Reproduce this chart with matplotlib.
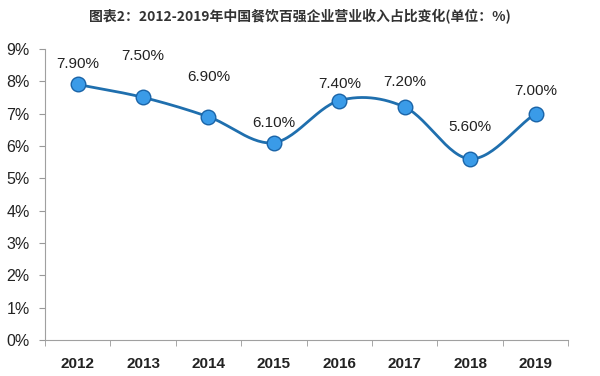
import numpy as np
import matplotlib
matplotlib.use('Agg')
import matplotlib.pyplot as plt

plt.rcParams['font.family'] = ['Liberation Sans', 'Noto Sans CJK SC', 'DejaVu Sans']

years = ['2012', '2013', '2014', '2015', '2016', '2017', '2018', '2019']
share = [7.90, 7.50, 6.90, 6.10, 7.40, 7.20, 5.60, 7.00]
label_offsets = [15, 30, 29, 14, 12, 18, 23, 16]


def smooth(x, y, n=30):
    # Catmull-Rom curve through the points, for the smoothed line look
    x = np.asarray(x, float)
    y = np.asarray(y, float)
    px = np.concatenate([[2 * x[0] - x[1]], x, [2 * x[-1] - x[-2]]])
    py = np.concatenate([[2 * y[0] - y[1]], y, [2 * y[-1] - y[-2]]])
    xs, ys = [], []
    t = np.linspace(0, 1, n)
    for i in range(1, len(px) - 2):
        for p, out in ((px, xs), (py, ys)):
            p0, p1, p2, p3 = p[i - 1], p[i], p[i + 1], p[i + 2]
            out.extend(0.5 * ((2 * p1) + (-p0 + p2) * t
                              + (2 * p0 - 5 * p1 + 4 * p2 - p3) * t ** 2
                              + (-p0 + 3 * p1 - 3 * p2 + p3) * t ** 3))
    return np.array(xs), np.array(ys)


fig = plt.figure(figsize=(6, 3.76), dpi=100)
ax = fig.add_axes([0.075, 0.096, 0.872, 0.774])

x = np.arange(len(years))
sx, sy = smooth(x, share)
ax.plot(sx, sy, color='#1f6fae', lw=2, zorder=2)
ax.scatter(x, share, s=110, color='#3a9be8', edgecolor='#1a64a8', linewidth=1, zorder=3)

for xi, v, off in zip(x, share, label_offsets):
    ax.annotate(f'{v:.2f}%', (xi, v), xytext=(0, off), textcoords='offset points',
                ha='center', va='center', fontsize=11, color='#222222')

ax.set_xlim(-0.5, len(years) - 0.5)
ax.set_ylim(0, 9)
ax.set_yticks(range(0, 10))
ax.set_yticklabels([f'{i}%' for i in range(0, 10)], fontsize=11.5, color='#222222')
ax.set_xticks(x)
ax.set_xticklabels(years, fontsize=11, fontweight='bold', color='#222222')
ax.set_xticks(np.arange(-0.5, len(years)), minor=True)
ax.tick_params(axis='x', which='major', length=0, pad=12)
ax.tick_params(axis='x', which='minor', length=4, color='#999999')
ax.tick_params(axis='y', length=4, color='#999999', pad=7)

for side in ['top', 'right']:
    ax.spines[side].set_visible(False)
for side in ['left', 'bottom']:
    ax.spines[side].set_color('#a0a0a0')

fig.text(0.5, 0.955, '图表2：2012-2019年中国餐饮百强企业营业收入占比变化(单位：%)',
         ha='center', va='center', fontsize=10, fontweight='bold', color='#333333',
         family=['Noto Sans CJK SC', 'DejaVu Sans'])

fig.savefig('out.png', dpi=100)
